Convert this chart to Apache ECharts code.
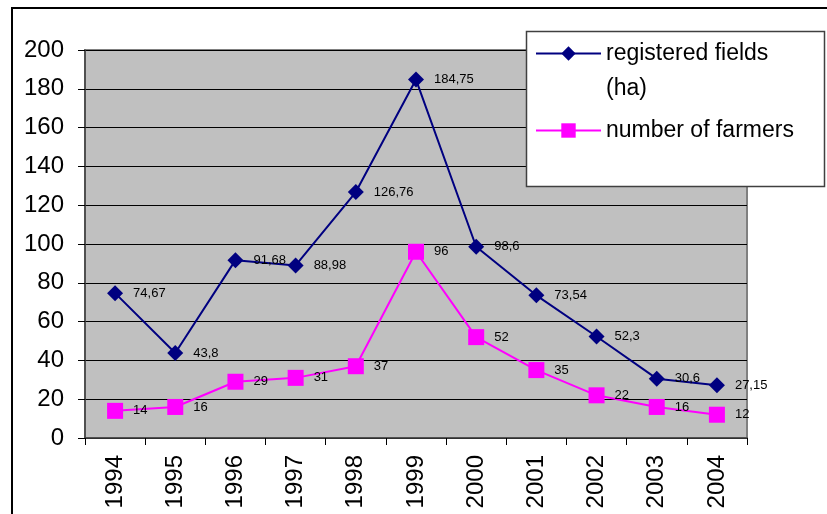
<!DOCTYPE html>
<html>
<head>
<meta charset="utf-8">
<script src="https://cdn.jsdelivr.net/npm/echarts@6/dist/echarts.min.js"></script>
<style>
  html, body { margin: 0; padding: 0; background: #fff; }
  #chart { width: 827px; height: 514px; }
</style>
</head>
<body>
<div id="chart"></div>
<script>
// Years on the category axis
const years = ['1994', '1995', '1996', '1997', '1998', '1999', '2000', '2001', '2002', '2003', '2004'];
// Registered organic fields, hectares
const registeredFields = [74.67, 43.8, 91.68, 88.98, 126.76, 184.75, 98.6, 73.54, 52.3, 30.6, 27.15];
// Number of farmers
const farmers = [14, 16, 29, 31, 37, 96, 52, 35, 22, 16, 12];

const FONT = '"Liberation Sans", Arial, sans-serif';
const commaDecimal = p => String(p.value).replace('.', ',');

const chart = echarts.init(document.getElementById('chart'), null, { renderer: 'canvas' });

chart.setOption({
  animation: false,
  backgroundColor: '#ffffff',
  textStyle: { fontFamily: FONT },
  grid: {
    left: 85, top: 50, right: 80, bottom: 76,
    show: true,
    backgroundColor: '#C0C0C0',
    borderColor: '#808080',
    borderWidth: 2
  },
  graphic: [
    {
      type: 'rect', z: 0, silent: true,
      shape: { x: 12, y: 8, width: 830, height: 530 },
      style: { fill: 'none', stroke: '#000', lineWidth: 2 }
    },
    {
      type: 'rect', z: 5, silent: true,
      shape: { x: 526.5, y: 31.5, width: 298, height: 155 },
      style: { fill: '#fff', stroke: '#404040', lineWidth: 1.5 }
    }
  ],
  legend: {
    orient: 'vertical',
    left: 535,
    top: 1,
    padding: 0,
    itemGap: 7,
    itemWidth: 65,
    itemHeight: 18,
    z: 10,
    data: ['registered fields (ha)', 'number of farmers'],
    formatter: name => name === 'registered fields (ha)' ? '\nregistered fields\n(ha)' : name,
    textStyle: { fontFamily: FONT, fontSize: 23, color: '#000', lineHeight: 35 }
  },
  xAxis: {
    type: 'category',
    data: years,
    boundaryGap: true,
    axisLine: { lineStyle: { color: '#404040', width: 1.5 } },
    axisTick: { show: true, length: 7, lineStyle: { color: '#000' } },
    axisLabel: {
      rotate: 90, margin: 17, fontSize: 24, color: '#000', fontFamily: FONT
    },
    splitLine: { show: false }
  },
  yAxis: {
    type: 'value',
    min: 0, max: 200, interval: 20,
    axisLine: { show: true, lineStyle: { color: '#404040', width: 1.5 } },
    axisTick: { show: true, length: 7, lineStyle: { color: '#000' } },
    axisLabel: { margin: 21, fontSize: 24, color: '#000', fontFamily: FONT },
    splitLine: { show: true, lineStyle: { color: '#000', width: 1 } }
  },
  series: [
    {
      name: 'registered fields (ha)',
      type: 'line',
      data: registeredFields,
      symbol: 'diamond',
      symbolSize: 16,
      color: '#000080',
      lineStyle: { color: '#000080', width: 2 },
      itemStyle: { color: '#000080' },
      label: {
        show: true, position: 'right', distance: 10,
        fontSize: 13, color: '#000', fontFamily: FONT,
        formatter: commaDecimal
      },
      z: 3
    },
    {
      name: 'number of farmers',
      type: 'line',
      data: farmers,
      symbol: 'rect',
      symbolSize: 16,
      color: '#FF00FF',
      lineStyle: { color: '#FF00FF', width: 2 },
      itemStyle: { color: '#FF00FF' },
      label: {
        show: true, position: 'right', distance: 10,
        fontSize: 13, color: '#000', fontFamily: FONT,
        formatter: commaDecimal
      },
      z: 2
    }
  ]
});
</script>
</body>
</html>
